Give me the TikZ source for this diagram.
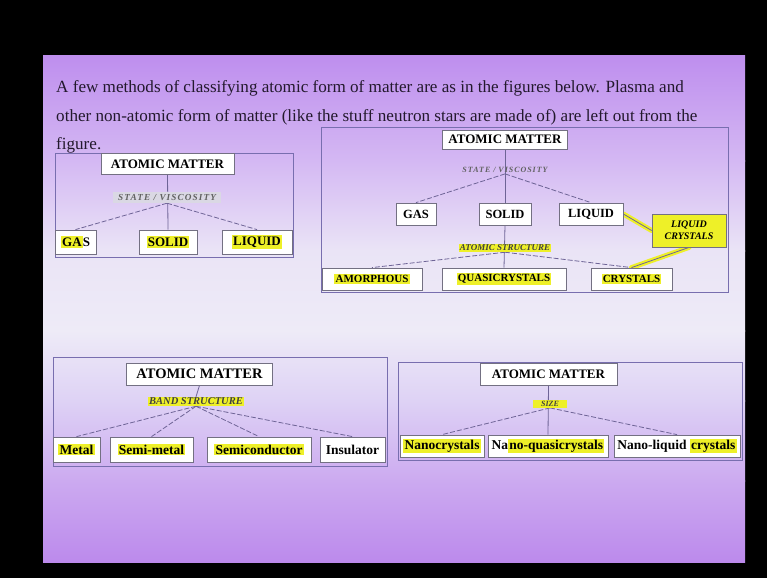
\documentclass[tikz,border=0pt]{standalone}
\usepackage{fontspec}
\setmainfont{Liberation Serif}
\usepackage{xcolor}
\usepackage{tikz}
\usetikzlibrary{positioning, backgrounds}

\definecolor{bgA}{RGB}{190,142,238}
\definecolor{bgB}{RGB}{212,184,243}
\definecolor{bgC}{RGB}{234,228,246}
\definecolor{bgD}{RGB}{238,235,247}
\definecolor{bgE}{RGB}{222,210,245}
\definecolor{bgF}{RGB}{204,170,240}
\definecolor{bgG}{RGB}{188,138,236}
\definecolor{framecol}{RGB}{120,110,175}
\definecolor{boxcol}{RGB}{115,112,130}
\definecolor{linkcol}{RGB}{110,100,150}
\definecolor{hlyellow}{RGB}{238,240,40}
\definecolor{critgray}{RGB}{218,216,228}
\definecolor{textcol}{RGB}{35,25,45}

\newcommand{\hlt}[1]{{\setlength{\fboxsep}{1.2pt}\colorbox{hlyellow}{#1}}}

\begin{document}
\begin{tikzpicture}[
    x=1pt, y=-1pt,
    frame/.style={draw=framecol, line width=0.8pt},
    root/.style={
        draw=boxcol, fill=white, line width=0.8pt,
        font=\fontsize{13}{15}\selectfont\bfseries,
        minimum height=21pt, inner sep=1pt
    },
    leaf/.style={
        draw=boxcol, fill=white, line width=0.8pt,
        font=\fontsize{12.5}{14}\selectfont\bfseries,
        minimum height=22pt, inner sep=1pt
    },
    lowleaf/.style={leaf, font=\fontsize{11}{13}\selectfont\bfseries},
    nameleaf/.style={leaf, font=\fontsize{13.5}{15}\selectfont\bfseries},
    crit/.style={
        font=\fontsize{9.2}{10}\selectfont\bfseries\itshape\addfontfeatures{LetterSpace=12},
        text=black!62, inner sep=1pt
    },
    hcrit/.style={
        font=\fontsize{9}{10}\selectfont\bfseries\itshape,
        fill=hlyellow, text=black!75, inner sep=1pt
    },
    link/.style={draw=linkcol, line width=0.8pt},
    dlink/.style={link, dashed, dash pattern=on 5pt off 2pt},
    marker/.style={draw=hlyellow, line width=5pt, line cap=round},
]

\useasboundingbox (0,0) rectangle (767,578);

% ── slide ──
\begin{scope}[on background layer]
\fill[black] (0,0) rectangle (767,578);
\foreach \ya/\yb/\ca/\cb in {55/161/bgA/bgB, 160/251/bgB/bgC, 250/331/bgC/bgD,
                             330/401/bgD/bgE, 400/481/bgE/bgF, 480/562/bgF/bgG}
    \shade[top color=\ca, bottom color=\cb] (43,\ya) rectangle (745,\yb);
\end{scope}

% ── intro text ──
\begin{scope}[every node/.style={anchor=base west, inner sep=0pt, text=textcol,
                                 font=\fontsize{17.1}{20}\selectfont}]
\node (line1) at (56,92) {A few methods of classifying atomic form of matter are as in the figures below. Plasma and};
\node (line2) at (56,121) {other non-atomic form of matter (like the stuff neutron stars are made of) are left out from the};
\node (line3) at (56,149) {figure.};
\end{scope}

% ── state / viscosity ──
\node[root, minimum width=133pt] (root1) at (167.5,164) {ATOMIC MATTER};
\node[crit, fill=critgray, minimum width=108pt, minimum height=11pt] (crit1) at (167,197.5) {STATE / VISCOSITY};
\node[leaf, font=\fontsize{13}{15}\selectfont\bfseries, minimum width=41pt, minimum height=24pt] (gas1) at (75.5,242) {\hlt{GA}S};
\node[leaf, font=\fontsize{13}{15}\selectfont\bfseries, minimum width=58pt, minimum height=24pt] (solid1) at (168,242) {\hlt{SOLID}};
\node[leaf, font=\fontsize{13}{15}\selectfont\bfseries, minimum width=70pt, minimum height=24pt] (liquid1) at (257,242) {\hlt{LIQUID}};

% ── state, then atomic structure ──
\node[root, minimum width=125pt, minimum height=19pt] (root2) at (505,139.5) {ATOMIC MATTER};
\node[crit, font=\fontsize{8}{9}\selectfont\bfseries\itshape\addfontfeatures{LetterSpace=12}] (crit2) at (505,170) {STATE / VISCOSITY};
\node[leaf, minimum width=40pt] (gas2) at (416,214) {GAS};
\node[leaf, minimum width=52pt] (solid2) at (505,214) {SOLID};
\node[leaf, minimum width=64pt] (liquid2) at (591,214) {LIQUID};
\node[leaf, fill=hlyellow, align=center, font=\fontsize{10}{12}\selectfont\bfseries\itshape,
      minimum width=74pt, minimum height=33pt] (lc2) at (689,230.5) {LIQUID\\CRYSTALS};
\node[hcrit] (as2) at (505,248) {ATOMIC STRUCTURE};
\node[lowleaf, minimum width=100pt] (amor2) at (372,279) {\hlt{AMORPHOUS}};
\node[lowleaf, minimum width=124pt] (quasi2) at (504,279) {\hlt{QUASICRYSTALS}};
\node[lowleaf, minimum width=81pt] (cryst2) at (631.5,279) {\hlt{CRYSTALS}};

% ── band structure ──
\node[root, font=\fontsize{14.5}{16}\selectfont\bfseries, minimum width=146pt, minimum height=22pt] (root3) at (199.5,374) {ATOMIC MATTER};
\node[hcrit, font=\fontsize{10.5}{11}\selectfont\bfseries\itshape] (band3) at (196,401.5) {BAND STRUCTURE};
\node[nameleaf, minimum width=47pt, minimum height=25pt] (metal3) at (76.5,449.5) {\hlt{Metal}};
\node[nameleaf, minimum width=83pt, minimum height=25pt] (semim3) at (151.5,449.5) {\hlt{Semi-metal}};
\node[nameleaf, minimum width=104pt, minimum height=25pt] (semic3) at (259,449.5) {\hlt{Semiconductor}};
\node[nameleaf, minimum width=65pt, minimum height=25pt] (insul3) at (352.5,449.5) {Insulator};

% ── size ──
\node[root, minimum width=137pt, minimum height=22pt] (root4) at (548.5,374) {ATOMIC MATTER};
\node[hcrit, font=\fontsize{8}{9}\selectfont\bfseries\itshape, minimum width=34pt] (size4) at (550,404) {SIZE};
\node[nameleaf, minimum width=84pt] (nanoc4) at (442,446) {\hlt{Nanocrystals}};
\node[nameleaf, minimum width=120pt] (nanoq4) at (548,446) {Na\hlt{no-quasicrystals}};
\node[nameleaf, minimum width=126pt] (nanol4) at (677,446) {Nano-liquid \hlt{crystals}};

% ── frames and links ──
\begin{scope}[on background layer]
\draw[frame] (55,153) rectangle (293,257);
\draw[frame] (321,127) rectangle (728,292);
\draw[frame] (53,357) rectangle (387,466);
\draw[frame] (398,362) rectangle (742,460);

\draw[link] (root1.south) -- (solid1.north);
\draw[dlink] (crit1.south) -- (gas1.north);
\draw[dlink] (crit1.south) -- (liquid1.north);

\draw[link] (root2.south) -- (solid2.north);
\draw[dlink] (crit2.south) -- (gas2.north);
\draw[dlink] (crit2.south) -- (liquid2.north);
\draw[link] (solid2.south) -- (quasi2.north);
\draw[dlink] (as2.south) -- (amor2.north);
\draw[dlink] (as2.south) -- (cryst2.north);
\draw[marker] (liquid2.east) -- (lc2.west);
\draw[marker] (lc2.south) -- (cryst2.north);
\draw[link] (liquid2.east) -- (lc2.west);
\draw[link] (lc2.south) -- (cryst2.north);

\draw[link] (root3.south) -- (band3.north);
\foreach \leaf in {metal3, semim3, semic3, insul3}
    \draw[dlink] (band3.south) -- (\leaf.north);

\draw[link] (root4.south) -- (nanoq4.north);
\draw[dlink] (size4.south) -- (nanoc4.north);
\draw[dlink] (size4.south) -- (nanol4.north);
\end{scope}

\end{tikzpicture}
\end{document}
